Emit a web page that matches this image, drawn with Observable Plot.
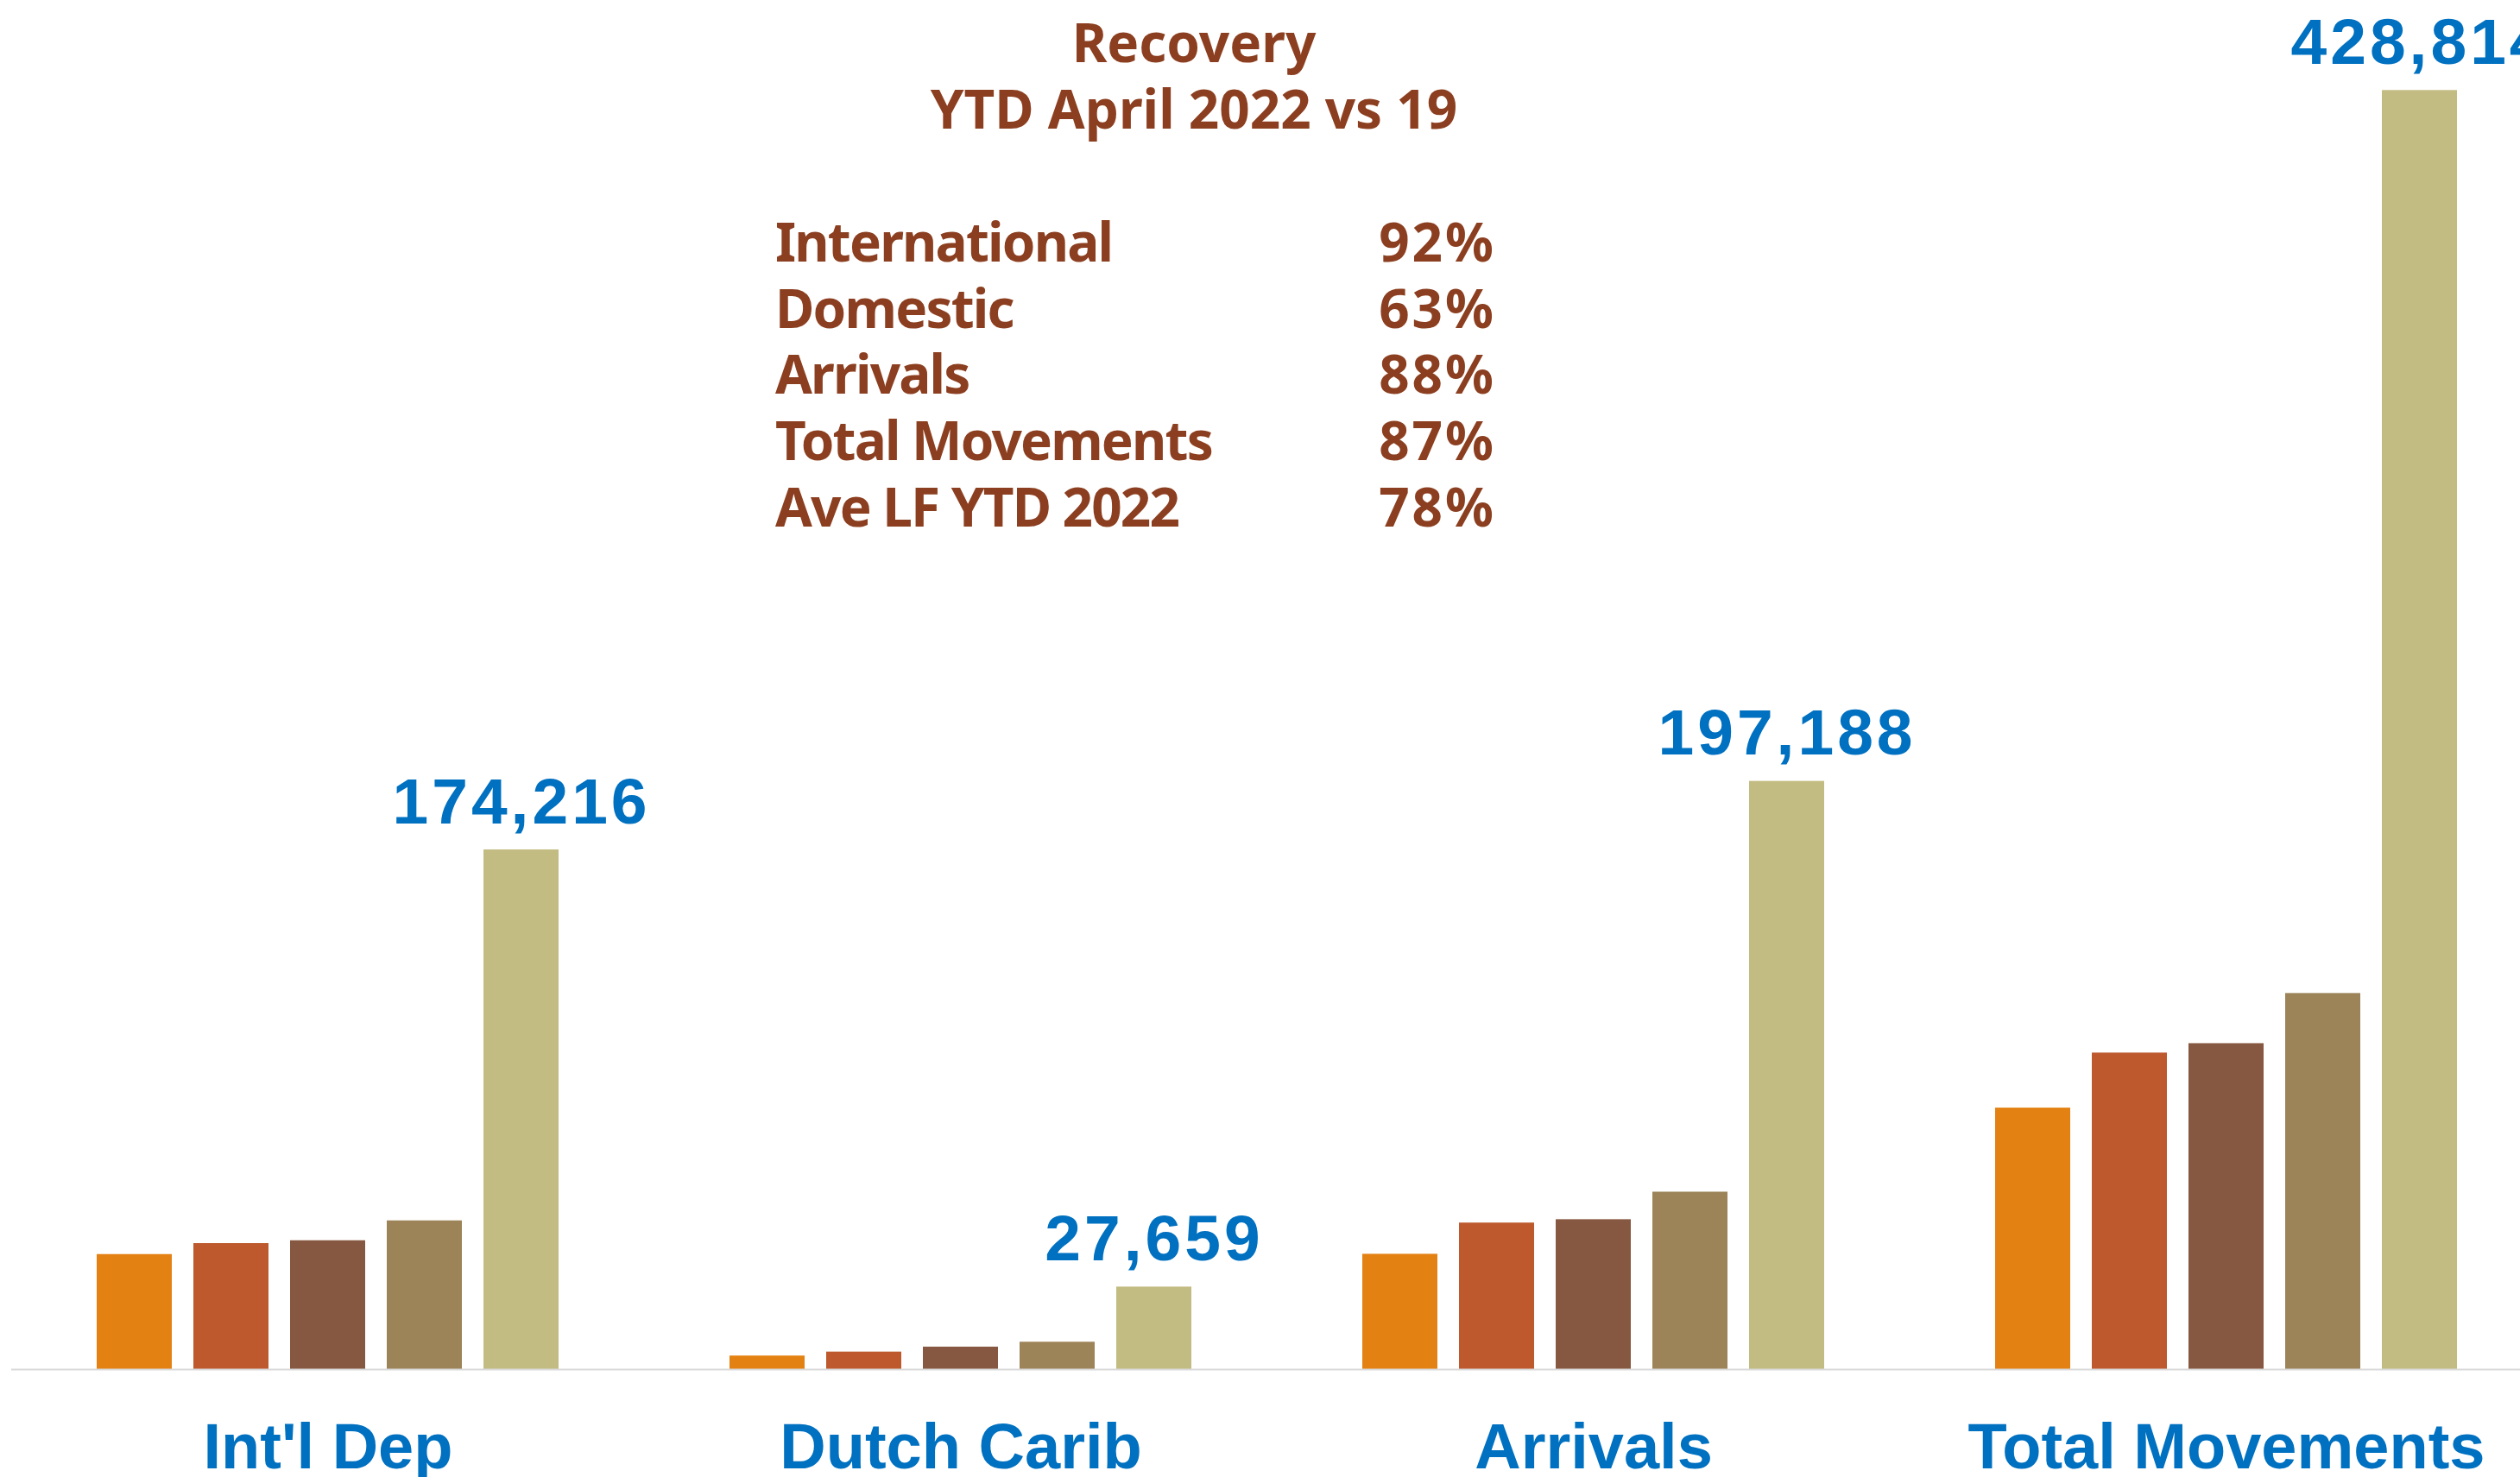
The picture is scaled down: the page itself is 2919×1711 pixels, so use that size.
<!DOCTYPE html>
<html>
<head>
<meta charset="utf-8">
<script src="https://cdn.jsdelivr.net/npm/d3@7"></script>
<script src="https://cdn.jsdelivr.net/npm/@observablehq/plot@0.6"></script>
<style>
  html, body { margin: 0; padding: 0; background: #fff; overflow: hidden; width: 2919px; height: 1711px; }
  #wrap { position: relative; width: 2919px; height: 1711px; overflow: hidden; }
  #wrap svg { max-width: none !important; display: block; }
  .note { position: absolute; font-family: "Noto Sans", sans-serif; font-weight: 700; color: #8C3F20;
          font-size: 62px; line-height: 76.7px; letter-spacing: -1.8px; white-space: nowrap; }
  .title { left: 1383px; top: 10px; transform: translateX(-50%); text-align: center; letter-spacing: 0px; }
  .rows { left: 898px; top: 241px; width: 832px; }
  .row { display: flex; justify-content: space-between; }
  .row .val { letter-spacing: 3px; margin-right: -3px; }
  .row .lab.num { letter-spacing: 0px; }
</style>
</head>
<body>
<div id="wrap"></div>
<script>
// ---- data ----
const categories = ["Int'l Dep", "Dutch Carib", "Arrivals", "Total Movements"];
const series = ["Jan", "Feb", "Mar", "Apr", "YTD"];
const jan = [38560, 4540, 38650, 87660];
const feb = [42240, 5870, 49120, 106110];
const mar = [43190, 7520, 50250, 109270];
const apr = [49850, 9170, 59480, 126080];
const ytd = [174216, 27659, 197188, 428814];
const seriesValues = [jan, feb, mar, apr, ytd];
const labelledSeries = "YTD";
const colors = ["#E48113", "#BD592D", "#875841", "#9C8358", "#C3BC82"];

const titleLines = ["Recovery", "YTD April 2022 vs 19"];
const recoveryLabels = ["International", "Domestic", "Arrivals", "Total Movements", "Ave LF YTD 2022"];
const recoveryValues = ["92%", "63%", "88%", "87%", "78%"];

// ---- chart ----
const data = categories.flatMap((c, i) =>
  series.map((s, j) => ({category: c, series: s, value: seriesValues[j][i]})));

const fmt = d3.format(",");
const plot = Plot.plot({
  width: 2945,
  height: 1711,
  marginLeft: 13,
  marginRight: 0,
  marginTop: 0,
  marginBottom: 125,
  fx: {domain: categories, padding: 0, axis: null, label: null},
  x: {domain: series, paddingInner: 0.22, paddingOuter: 0.86, axis: null, label: null},
  y: {domain: [0, 459000], axis: null, label: null},
  color: {domain: series, range: colors},
  marks: [
    Plot.barY(data, {fx: "category", x: "series", y: "value", fill: "series"}),
    Plot.ruleY([0], {stroke: "#D9D9D9", strokeWidth: 2}),
    Plot.text(data.filter(d => d.series === labelledSeries), {
      fx: "category", x: "series", y: "value",
      text: d => fmt(d.value),
      dy: -31, lineAnchor: "bottom",
      fill: "#0070C0", fontSize: 75, fontWeight: 700,
      fontFamily: "'Liberation Sans', Arial, sans-serif"
    }),
    Plot.text(categories, {
      fx: d => d, text: d => d,
      frameAnchor: "bottom", dy: 114, lineAnchor: "bottom",
      fill: "#0070C0", fontSize: 74, fontWeight: 700,
      fontFamily: "'Liberation Sans', Arial, sans-serif"
    })
  ]
});

d3.select(plot).selectAll("text")
  .filter(function() { return /^\d[\d,]*$/.test(this.textContent); })
  .style("letter-spacing", "4px");

const wrap = document.getElementById("wrap");
wrap.appendChild(plot);

const title = document.createElement("div");
title.className = "note title";
titleLines.forEach(t => { const d = document.createElement("div"); d.textContent = t; title.appendChild(d); });
wrap.appendChild(title);

const rows = document.createElement("div");
rows.className = "note rows";
recoveryLabels.forEach((l, i) => {
  const r = document.createElement("div");
  r.className = "row";
  const a = document.createElement("span"); a.className = "lab"; a.textContent = l;
  const b = document.createElement("span"); b.className = "val"; b.textContent = recoveryValues[i];
  r.appendChild(a); r.appendChild(b);
  rows.appendChild(r);
});
wrap.appendChild(rows);
</script>
</body>
</html>
